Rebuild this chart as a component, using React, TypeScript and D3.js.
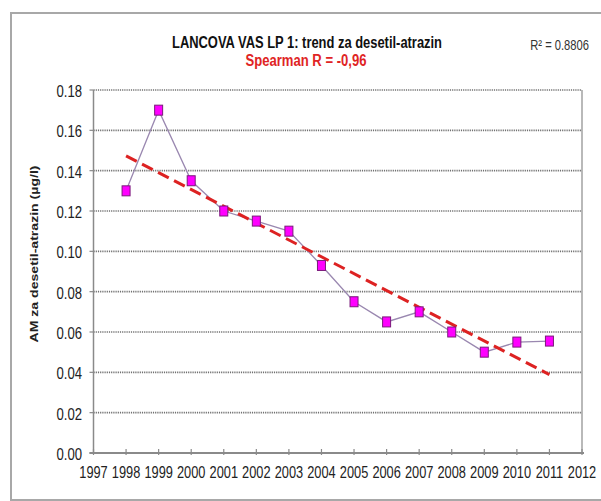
import React from "react";
import * as d3 from "d3";

const years = [1998, 1999, 2000, 2001, 2002, 2003, 2004, 2005, 2006, 2007, 2008, 2009, 2010, 2011];
const values = [0.13, 0.17, 0.135, 0.12, 0.115, 0.11, 0.093, 0.075, 0.065, 0.07, 0.06, 0.05, 0.055, 0.0555];
const xTicks = d3.range(1997, 2013);
const yTicks = [0, 0.02, 0.04, 0.06, 0.08, 0.1, 0.12, 0.14, 0.16, 0.18];
const title = "LANCOVA VAS LP 1: trend za desetil-atrazin";
const subtitle = "Spearman R = -0,96";
const r2Label = "R² = 0.8806";
const yLabel = "AM za desetil-atrazin (µg/l)";

const W = 601;
const H = 501;
const plot = { left: 93.5, right: 582, top: 90, bottom: 453 };
const font = "'Liberation Sans', Arial, sans-serif";

function NText(props: { x: number; y: number; sx: number; anchor?: string; size: number; weight?: string; fill: string; children: React.ReactNode }) {
  const { x, y, sx, anchor = "start", size, weight = "normal", fill, children } = props;
  return (
    <text transform={`translate(${x},${y}) scale(${sx},1)`} textAnchor={anchor} fontFamily={font} fontSize={size} fontWeight={weight} fill={fill}>
      {children}
    </text>
  );
}

export default function App() {
  const x = d3.scaleLinear().domain([1997, 2012]).range([plot.left, plot.right]);
  const y = d3.scaleLinear().domain([0, 0.18]).range([plot.bottom, plot.top]);

  // linear regression for trend line
  const n = years.length;
  const mx = d3.mean(years) as number;
  const my = d3.mean(values) as number;
  let sxy = 0, sxx = 0;
  years.forEach((t, i) => { sxy += (t - mx) * (values[i] - my); sxx += (t - mx) * (t - mx); });
  const slope = sxy / sxx;
  const icpt = my - slope * mx;
  const trendPts: [number, number][] = [years[0], years[n - 1]].map((t) => [x(t), y(icpt + slope * t)]);

  const line = d3.line<number>().x((_, i) => x(years[i])).y((v) => y(v));

  return (
    <svg width={W} height={H} style={{ position: "absolute", left: 0, top: 0, background: "#fff" }}>
      <rect x={0} y={0} width={W} height={H} fill="#fff" />
      <rect x={11} y={13} width={600} height={487} fill="none" stroke="#a8a8a8" strokeWidth={2} />
      {/* titles */}
      <text x={307} y={48} textAnchor="middle" fontFamily={font} fontWeight="bold" fontSize={16} fill="#111" textLength={270} lengthAdjust="spacingAndGlyphs">{title}</text>
      <text x={306} y={66} textAnchor="middle" fontFamily={font} fontWeight="bold" fontSize={16} fill="#e02424" textLength={121} lengthAdjust="spacingAndGlyphs">{subtitle}</text>
      <NText x={589} y={50} sx={0.8} anchor="end" size={14} fill="#333">{r2Label}</NText>
      {/* gridlines */}
      {yTicks.filter((v) => v > 0).map((v) => (
        <line key={"g" + v} x1={plot.left} x2={plot.right} y1={y(v)} y2={y(v)} stroke="#707070" strokeWidth={1.6} strokeDasharray="1.2,1" />
      ))}
      {/* plot frame */}
      <line x1={plot.right} x2={plot.right} y1={plot.top} y2={plot.bottom} stroke="#8a8a8a" strokeWidth={1.2} />
      <line x1={plot.left} x2={plot.left} y1={plot.top} y2={plot.bottom} stroke="#8a8a8a" strokeWidth={1.5} />
      <line x1={plot.left - 4} x2={plot.right + 2} y1={plot.bottom} y2={plot.bottom} stroke="#8a8a8a" strokeWidth={1.8} />
      {/* y ticks */}
      {yTicks.map((v) => (
        <g key={"y" + v}>
          <line x1={plot.left - 4} x2={plot.left} y1={y(v)} y2={y(v)} stroke="#8a8a8a" strokeWidth={1.2} />
          <NText x={82} y={y(v) + 7} sx={0.82} anchor="end" size={16} fill="#222">{v.toFixed(2)}</NText>
        </g>
      ))}
      {/* x ticks */}
      {xTicks.map((t) => (
        <g key={"x" + t}>
          <line x1={x(t)} x2={x(t)} y1={plot.bottom - 4} y2={plot.bottom + 2} stroke="#8a8a8a" strokeWidth={1.2} />
          <NText x={x(t)} y={478} sx={0.8} anchor="middle" size={16} fill="#222">{t}</NText>
        </g>
      ))}
      {/* y label */}
      <text transform={`translate(38,254) rotate(-90)`} textAnchor="middle" fontFamily={font} fontWeight="bold" fontSize={11.5} fill="#222" textLength={177} lengthAdjust="spacingAndGlyphs">{yLabel}</text>
      {/* data line */}
      <path d={line(values) || ""} fill="none" stroke="#9a88b0" strokeWidth={1.3} />
      {/* trend */}
      <line x1={trendPts[0][0]} y1={trendPts[0][1]} x2={trendPts[1][0]} y2={trendPts[1][1]} stroke="#dd2222" strokeWidth={3} strokeDasharray="12,6" />
      {/* markers */}
      {values.map((v, i) => (
        <rect key={"m" + i} x={x(years[i]) - 4} y={y(v) - 5} width={8} height={10} fill="#ff00ff" stroke="#7a1a7a" strokeWidth={1} />
      ))}
    </svg>
  );
}
